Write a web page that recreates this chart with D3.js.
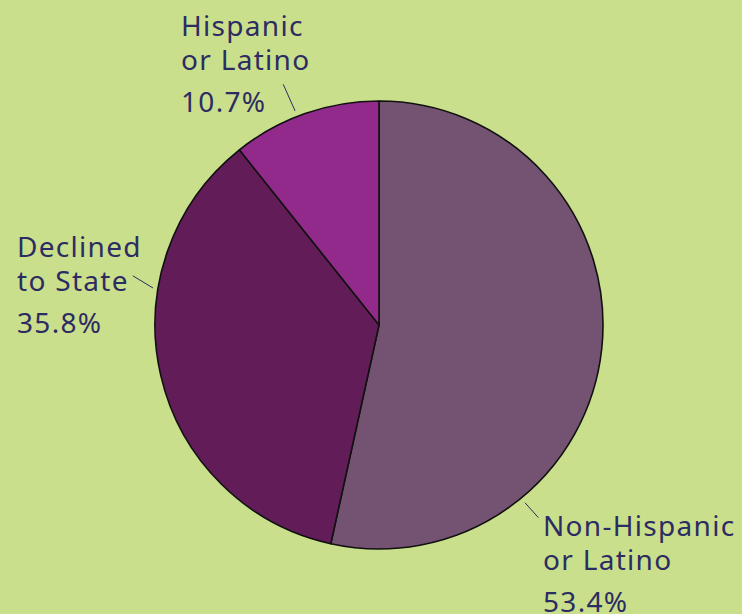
<!DOCTYPE html>
<html>
<head>
<meta charset="utf-8">
<script src="https://cdn.jsdelivr.net/npm/d3@7"></script>
<style>
  html, body { margin: 0; padding: 0; background: #c9df8b; }
  svg { display: block; }
  .lbl { font-family: "Noto Sans", sans-serif; font-size: 28px; letter-spacing: 1.3px; fill: #2d2c62; }
</style>
</head>
<body>
<script>
// slice data, drawn clockwise from 12 o'clock
var categories = ["Non-Hispanic or Latino", "Declined to State", "Hispanic or Latino"];
var values = [53.4, 35.8, 10.7];
var labelLines = [["Non-Hispanic", "or Latino"], ["Declined", "to State"], ["Hispanic", "or Latino"]];
var colors = ["#735371", "#621d59", "#922a8b"];

var width = 742, height = 614;
var cx = 379, cy = 325, radius = 224;

var svg = d3.select("body").append("svg")
    .attr("width", width)
    .attr("height", height);

var pie = d3.pie().sort(null).value(function(d) { return d; });
var arcs = pie(values);
var arc = d3.arc().innerRadius(0).outerRadius(radius);

var g = svg.append("g").attr("transform", "translate(" + cx + "," + cy + ")");

g.selectAll("path.slice")
    .data(arcs)
    .enter().append("path")
    .attr("class", "slice")
    .attr("d", arc)
    .attr("fill", function(d, i) { return colors[i]; })
    .attr("stroke", "#111")
    .attr("stroke-width", 1.6)
    .attr("stroke-linejoin", "round");

// leader lines (polar: degrees clockwise from top) + label placement
var leader = [
  { a0: 140.6, r0: 230, a1: 140.4, r1: 250, tx: 543, ty: 536 },
  { a0: 279.3, r0: 229, a1: 281.3, r1: 251, tx: 17, ty: 257 },
  { a0: 338.6, r0: 230, a1: 338.3, r1: 259, tx: 181, ty: 36 }
];

leader.forEach(function(l, i) {
  var p0 = d3.pointRadial(l.a0 * Math.PI / 180, l.r0),
      p1 = d3.pointRadial(l.a1 * Math.PI / 180, l.r1);
  g.append("line")
      .attr("x1", p0[0]).attr("y1", p0[1])
      .attr("x2", p1[0]).attr("y2", p1[1])
      .attr("stroke", "#2d2c62")
      .attr("stroke-width", 1);

  var t = svg.append("text").attr("class", "lbl");
  labelLines[i].forEach(function(s, j) {
    t.append("tspan").attr("x", l.tx).attr("y", l.ty + j * 34).text(s);
  });
  t.append("tspan").attr("x", l.tx).attr("y", l.ty + 34 + 42)
      .text(d3.format(".1f")(values[i]) + "%");
});
</script>
</body>
</html>
